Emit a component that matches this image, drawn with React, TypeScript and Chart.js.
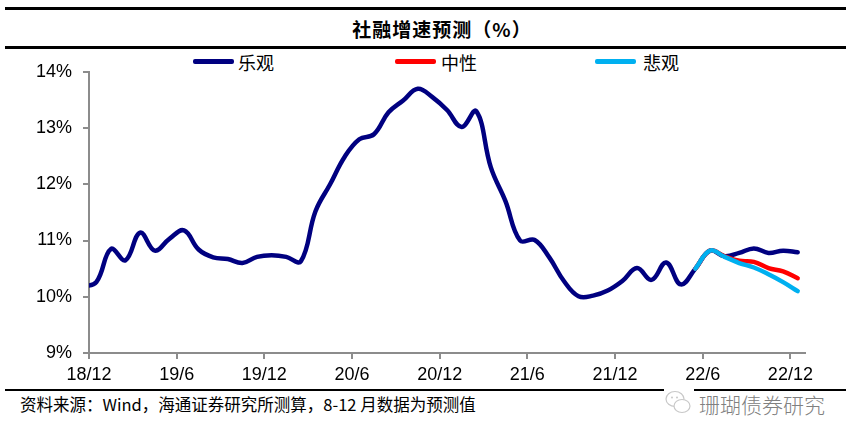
import React, { useEffect, useRef } from "react";
import { Chart, registerables } from "chart.js";

Chart.register(...registerables);

// Months (data is monthly; 18/11 lies just left of the axis start and is clipped)
const MONTHS = [
  "18/11", "18/12",
  "19/1", "19/2", "19/3", "19/4", "19/5", "19/6", "19/7", "19/8", "19/9", "19/10", "19/11", "19/12",
  "20/1", "20/2", "20/3", "20/4", "20/5", "20/6", "20/7", "20/8", "20/9", "20/10", "20/11", "20/12",
  "21/1", "21/2", "21/3", "21/4", "21/5", "21/6", "21/7", "21/8", "21/9", "21/10", "21/11", "21/12",
  "22/1", "22/2", "22/3", "22/4", "22/5", "22/6", "22/7", "22/8", "22/9", "22/10", "22/11", "22/12",
];

const TICK_LABELS = ["18/12", "19/6", "19/12", "20/6", "20/12", "21/6", "21/12", "22/6", "22/12"];

// 乐观 (optimistic) – full history plus forecast
const OPTIMISTIC = [
  10.18, 10.26,
  10.85, 10.65, 11.14, 10.82, 11.03, 11.18, 10.84, 10.70, 10.67, 10.60, 10.71, 10.74,
  10.71, 10.63, 11.52, 12.0, 12.49, 12.80, 12.89, 13.28, 13.49, 13.70, 13.55, 13.32,
  13.02, 13.30, 12.30, 11.70, 11.00, 11.01, 10.70, 10.28, 10.01, 10.02, 10.11, 10.28,
  10.51, 10.30, 10.61, 10.22, 10.50, 10.82, 10.72, 10.78, 10.86, 10.78, 10.82, 10.79,
];

const FORECAST_START = "22/5";
// 中性 (neutral) from 22/5
const NEUTRAL = [10.50, 10.82, 10.72, 10.64, 10.62, 10.51, 10.45, 10.33];
// 悲观 (pessimistic) from 22/5
const PESSIMISTIC = [10.50, 10.82, 10.71, 10.60, 10.52, 10.40, 10.26, 10.10];

const SERIES_NAMES = ["乐观", "中性", "悲观"];
const SERIES_COLORS = ["#000080", "#FF0000", "#00B0F0"];

const Y_MIN = 9;
const Y_MAX = 14;
const Y_STEP = 1;

const TITLE = "社融增速预测（%）";
const SOURCE = "资料来源：Wind，海通证券研究所测算，8-12 月数据为预测值";
const WATERMARK = "珊瑚债券研究";

// axis position: months since 18/12 (tick at month start, data at mid-month)
const tickPos = (label: string) => MONTHS.indexOf(label) - 1;
const dataPos = (label: string) => MONTHS.indexOf(label) - 0.5;

const toPoints = (values: number[], startLabel: string) => {
  const start = MONTHS.indexOf(startLabel);
  return values.map((v, i) => ({ x: dataPos(MONTHS[start + i]), y: v }));
};

export default function App() {
  const canvasRef = useRef<HTMLCanvasElement | null>(null);

  useEffect(() => {
    const canvas = canvasRef.current;
    if (!canvas) return;
    const tickFont = { family: "'Liberation Sans', Arial, sans-serif", size: 18 };
    const chart = new Chart(canvas, {
      type: "line",
      data: {
        datasets: [
          {
            label: SERIES_NAMES[0],
            data: toPoints(OPTIMISTIC, MONTHS[0]),
            borderColor: SERIES_COLORS[0],
            backgroundColor: SERIES_COLORS[0],
            order: 3,
          },
          {
            label: SERIES_NAMES[1],
            data: toPoints(NEUTRAL, FORECAST_START),
            borderColor: SERIES_COLORS[1],
            backgroundColor: SERIES_COLORS[1],
            order: 2,
          },
          {
            label: SERIES_NAMES[2],
            data: toPoints(PESSIMISTIC, FORECAST_START),
            borderColor: SERIES_COLORS[2],
            backgroundColor: SERIES_COLORS[2],
            order: 1,
          },
        ].map((d) => ({
          ...d,
          borderWidth: 4.5,
          pointRadius: 0,
          tension: 0.4,
          fill: false,
          borderCapStyle: "round" as const,
          borderJoinStyle: "round" as const,
          clip: { left: 0, top: 10, right: 10, bottom: 10 },
        })),
      },
      options: {
        responsive: false,
        animation: false,
        devicePixelRatio: 1,
        layout: { padding: { top: 19, right: 46, left: 0, bottom: 0 } },
        plugins: {
          legend: { display: false },
          tooltip: { enabled: false },
        },
        scales: {
          x: {
            type: "linear",
            min: 0,
            max: MONTHS.length - 1,
            afterBuildTicks: (s: any) => {
              s.ticks = TICK_LABELS.map((l) => ({ value: tickPos(l) }));
            },
            afterFit: (s: any) => {
              s.height = 35;
            },
            ticks: {
              autoSkip: false,
              maxRotation: 0,
              padding: 5,
              color: "#000",
              font: tickFont,
              callback: (v: any) => {
                const l = TICK_LABELS.find((t) => tickPos(t) === Number(v));
                return l ?? "";
              },
            },
            grid: { drawOnChartArea: false, tickLength: 6, color: "#8c8c8c", lineWidth: 2 },
            border: { color: "#8c8c8c", width: 2 },
          },
          y: {
            min: Y_MIN,
            max: Y_MAX,
            afterFit: (s: any) => {
              s.width = 89;
            },
            ticks: {
              stepSize: Y_STEP,
              padding: 11,
              color: "#000",
              font: tickFont,
              callback: (v: any) => `${v}%`,
            },
            grid: { drawOnChartArea: false, tickLength: 6, color: "#8c8c8c", lineWidth: 2 },
            border: { color: "#8c8c8c", width: 2 },
          },
        },
      },
    });
    return () => chart.destroy();
  }, []);

  const cjk = "'Noto Sans CJK SC', 'Noto Sans', sans-serif";
  const legendPos = [
    { bar: 193, text: 238 },
    { bar: 395, text: 441 },
    { bar: 595, text: 643 },
  ];

  return (
    <div
      style={{
        position: "fixed",
        left: 0,
        top: 0,
        width: 851,
        height: 440,
        background: "#fff",
        overflow: "hidden",
      }}
    >
      <div style={{ position: "absolute", left: 5, top: 7, width: 841, height: 3, background: "#000" }} />
      <div
        style={{
          position: "absolute",
          left: 0,
          top: 19,
          width: 884,
          textAlign: "center",
          fontFamily: cjk,
          fontWeight: 700,
          fontSize: 19,
          letterSpacing: 1,
          lineHeight: "20px",
          color: "#000",
          whiteSpace: "nowrap",
        }}
      >
        {TITLE}
      </div>
      <div style={{ position: "absolute", left: 5, top: 46, width: 841, height: 3, background: "#000" }} />

      {SERIES_NAMES.map((name, i) => (
        <React.Fragment key={name}>
          <div
            style={{
              position: "absolute",
              left: legendPos[i].bar,
              top: 59,
              width: 41,
              height: 4.5,
              borderRadius: 2,
              background: SERIES_COLORS[i],
            }}
          />
          <div
            style={{
              position: "absolute",
              left: legendPos[i].text,
              top: 52,
              fontFamily: cjk,
              fontSize: 18,
              lineHeight: "20px",
              color: "#000",
              whiteSpace: "nowrap",
            }}
          >
            {name}
          </div>
        </React.Fragment>
      ))}

      <canvas
        ref={canvasRef}
        width={851}
        height={338}
        style={{ position: "absolute", left: 0, top: 50, width: 851, height: 338 }}
      />

      <div style={{ position: "absolute", left: 5, top: 389, width: 841, height: 2, background: "#000" }} />
      <div
        style={{
          position: "absolute",
          left: 20,
          top: 395,
          fontFamily: cjk,
          fontSize: 16.5,
          lineHeight: "18px",
          color: "#000",
          whiteSpace: "nowrap",
        }}
      >
        {SOURCE}
      </div>
      <svg
        width={30}
        height={28}
        viewBox="0 0 30 28"
        style={{ position: "absolute", left: 664, top: 389, background: "#fff" }}
      >
        <ellipse cx={11} cy={10} rx={9} ry={7.5} fill="#fff" stroke="#c8c8c8" strokeWidth={1.2} />
        <ellipse cx={18} cy={17} rx={8} ry={6.5} fill="#fff" stroke="#c8c8c8" strokeWidth={1.2} />
        <circle cx={8} cy={8.5} r={1} fill="#c8c8c8" />
        <circle cx={13} cy={8.5} r={1} fill="#c8c8c8" />
      </svg>
      <div
        style={{
          position: "absolute",
          left: 699,
          top: 392,
          fontFamily: cjk,
          fontSize: 21,
          lineHeight: "24px",
          color: "#808080",
          fontWeight: 300,
          whiteSpace: "nowrap",
        }}
      >
        {WATERMARK}
      </div>
    </div>
  );
}
